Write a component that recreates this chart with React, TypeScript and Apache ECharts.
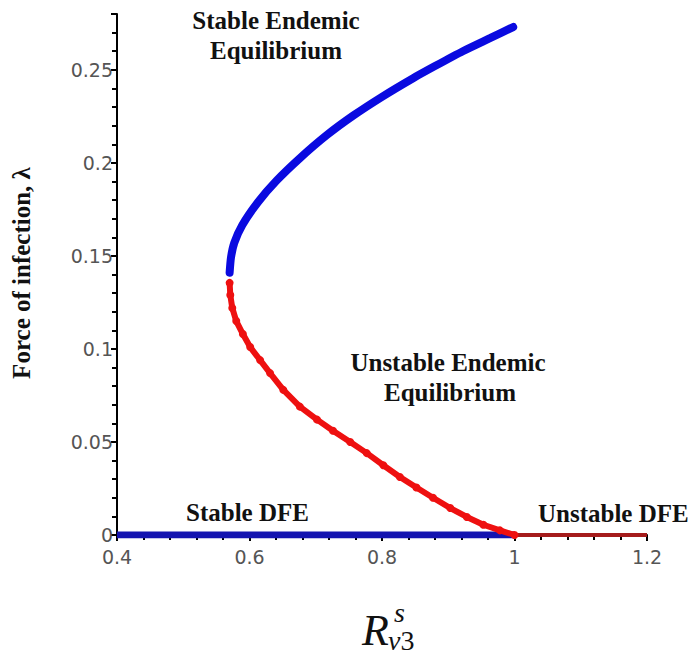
import React, { useEffect, useRef } from "react";
import * as echarts from "echarts";

// Upper (stable endemic) branch: [R, lambda]
const stableEndemic: [number, number][] = [
  [0.570, 0.141], [0.572, 0.149], [0.577, 0.157], [0.589, 0.1665], [0.613, 0.179],
  [0.641, 0.1905], [0.676, 0.2025], [0.717, 0.2150], [0.757, 0.2255], [0.800, 0.2355],
  [0.847, 0.2455], [0.880, 0.2520], [0.922, 0.2600], [0.963, 0.2670], [0.998, 0.273],
];
// Lower (unstable endemic) branch
const unstableEndemic: [number, number][] = [
  [0.570, 0.1355], [0.571, 0.129], [0.574, 0.122], [0.580, 0.115], [0.590, 0.108],
  [0.601, 0.101], [0.616, 0.094], [0.631, 0.087], [0.651, 0.078], [0.676, 0.069],
  [0.702, 0.0620], [0.726, 0.0560], [0.752, 0.0500], [0.777, 0.0440], [0.802, 0.0375],
  [0.827, 0.0312], [0.852, 0.0255], [0.877, 0.0200], [0.903, 0.0145], [0.928, 0.0097],
  [0.953, 0.0055], [0.978, 0.0025], [1.0, 0.0],
];
const stableDFE: [number, number][] = [[0.4, 0], [1.0, 0]];
const unstableDFE: [number, number][] = [[1.0, 0], [1.2, 0]];

const xMin = 0.4, xMax = 1.2, xStep = 0.2;
const yMin = 0, yMax = 0.28, yStep = 0.05;
const yTickValues = [0, 0.05, 0.1, 0.15, 0.2, 0.25];

export default function App() {
  const ref = useRef<HTMLDivElement>(null);
  useEffect(() => {
    if (!ref.current) return;
    const chart = echarts.init(ref.current, null, { renderer: "svg" });
    const serif = "'Liberation Serif', 'Times New Roman', serif";
    const tickFont = "'DejaVu Sans', sans-serif";
    const annot = (text: string, x: number, y: number, align: string) => ({
      type: "text",
      x, y,
      style: { text, font: `bold 25px ${serif}`, fill: "#111", align, verticalAlign: "middle" },
    });
    chart.setOption({
      animation: false,
      backgroundColor: "#ffffff",
      grid: { left: 117, right: 50, top: 14, bottom: 119, containLabel: false },
      xAxis: {
        type: "value", min: xMin, max: xMax, interval: xStep,
        axisLine: { show: true, onZero: false, lineStyle: { color: "#000", width: 2 } },
        axisTick: { show: true, length: 6, inside: false, lineStyle: { color: "#000", width: 2 } },
        minorTick: { show: true, splitNumber: 5, length: 5, lineStyle: { color: "#000", width: 2 } },
        splitLine: { show: false },
        axisLabel: {
          color: "#555", fontFamily: tickFont, fontSize: 19, margin: 12,
          formatter: (v: number) => String(Math.round(v * 10) / 10),
        },
      },
      yAxis: {
        type: "value", min: yMin, max: yMax, interval: yStep,
        axisLine: { show: true, onZero: false, lineStyle: { color: "#000", width: 2 } },
        axisTick: { show: true, length: 6, lineStyle: { color: "#000", width: 2 } },
        minorTick: { show: true, splitNumber: 5, length: 5, lineStyle: { color: "#000", width: 2 } },
        splitLine: { show: false },
        axisLabel: {
          color: "#555", fontFamily: tickFont, fontSize: 19, margin: 4,
          formatter: (v: number) => {
            const hit = yTickValues.find((t) => Math.abs(t - v) < 1e-9);
            return hit === undefined ? "" : String(hit);
          },
        },
      },
      series: [
        {
          type: "line", data: stableDFE, showSymbol: false, z: 3,
          lineStyle: { color: "#1414b0", width: 7 },
        },
        {
          type: "line", data: unstableDFE, showSymbol: false, z: 3,
          lineStyle: { color: "#a51c1c", width: 4 },
        },
        {
          type: "line", data: unstableEndemic, z: 4,
          symbol: "circle", symbolSize: 8, showSymbol: true,
          itemStyle: { color: "#ee1010" },
          lineStyle: { color: "#ee1010", width: 6, cap: "round" },
        },
        {
          type: "line", data: stableEndemic, z: 5, smooth: 0.2,
          showSymbol: false,
          lineStyle: { color: "#0a0ae0", width: 8, cap: "round" },
        },
      ],
      graphic: [
        annot("Stable Endemic", 276, 20, "center"),
        annot("Equilibrium", 276, 50, "center"),
        annot("Unstable Endemic", 448, 362, "center"),
        annot("Equilibrium", 450, 392, "center"),
        annot("Stable DFE", 186, 512, "left"),
        annot("Unstable DFE", 538, 513, "left"),
        {
          type: "text", x: 21, y: 273, rotation: Math.PI / 2,
          style: {
            text: "Force of infection, λ", font: `bold 25px ${serif}`, fill: "#111",
            align: "center", verticalAlign: "middle",
          },
        },
        {
          type: "text", x: 362, y: 630,
          style: { text: "R", font: `italic 44px ${serif}`, fill: "#111", align: "left", verticalAlign: "middle" },
        },
        {
          type: "text", x: 394, y: 612,
          style: { text: "s", font: `italic 28px ${serif}`, fill: "#111", align: "left", verticalAlign: "middle" },
        },
        {
          type: "text", x: 388, y: 640,
          style: {
            text: "{v|v}{n|3}", fill: "#111", align: "left", verticalAlign: "middle",
            rich: {
              v: { font: `italic 28px ${serif}`, fill: "#111" },
              n: { font: `28px ${serif}`, fill: "#111" },
            },
          },
        },
      ],
    });
    return () => chart.dispose();
  }, []);
  return (
    <div
      ref={ref}
      style={{ position: "absolute", left: 0, top: 0, width: 697, height: 654, background: "#fff" }}
    />
  );
}
